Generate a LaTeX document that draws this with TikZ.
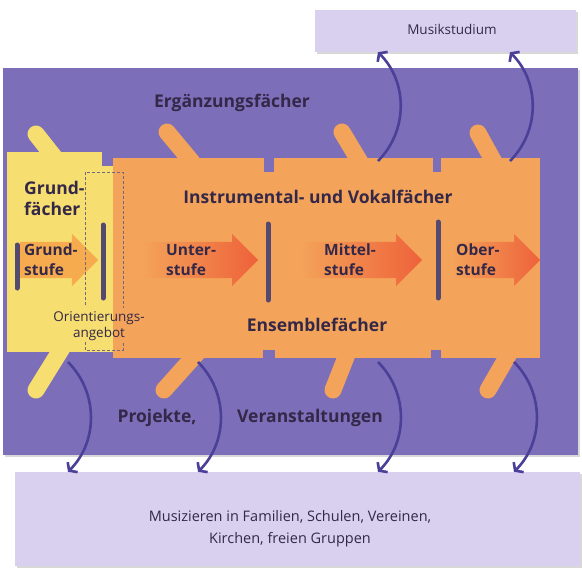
\documentclass[tikz,border=0pt]{standalone}
\usepackage{fontspec}
\setmainfont{Open Sans}
\usetikzlibrary{arrows.meta,positioning,calc,shapes.arrows,shadows}
\definecolor{violett}{RGB}{124,110,184}
\definecolor{flieder}{RGB}{216,208,238}
\definecolor{orangeblk}{RGB}{244,164,90}
\definecolor{gelbblk}{RGB}{246,222,112}
\definecolor{rotpfeil}{RGB}{238,98,58}
\definecolor{hellpfeil}{RGB}{246,172,78}
\definecolor{tinte}{RGB}{52,40,72}
\definecolor{bogen}{RGB}{74,64,152}
\definecolor{trenner}{RGB}{84,74,112}
\tikzstyle{feld}=[fill=violett,inner sep=0pt,drop shadow={opacity=0.3,shadow xshift=2pt,shadow yshift=-2pt}]
\tikzstyle{kasten}=[fill=flieder,inner sep=0pt,drop shadow={opacity=0.3,shadow xshift=2pt,shadow yshift=-2pt}]
\tikzstyle{block}=[inner sep=0pt]
\tikzstyle{lasche}=[line width=17pt,line cap=round]
\tikzstyle{kerbe}=[fill=violett]
\tikzstyle{trennstrich}=[draw=trenner,line width=5pt,line cap=round]
\tikzstyle{stufenpfeil}=[single arrow,minimum width=52pt,single arrow head extend=8pt,inner sep=0pt,inner ysep=18pt,anchor=tail]
\tikzstyle{bogenpfeil}=[draw=bogen,line width=2.6pt,-{Straight Barb[length=5pt,width=14pt]}]
\tikzstyle{gross}=[font=\bfseries\fontsize{17.5}{21}\selectfont,text=tinte]
\tikzstyle{stufe}=[font=\bfseries\fontsize{15.5}{20}\selectfont,text=tinte,align=left,anchor=west,inner sep=0pt]
\tikzstyle{klein}=[font=\fontsize{13.5}{16}\selectfont,text=tinte,align=center]

\begin{document}
\begin{tikzpicture}[x=1pt,y=-1pt]
\useasboundingbox[fill=white] (0,0) rectangle (582,571);
\node[kasten,minimum width=261pt,minimum height=42pt] (studium) at (445.5,31) {};
\node[klein] (studiumtext) at (452,29) {Musikstudium};
\node[feld,minimum width=575pt,minimum height=387pt] (feld) at (290.5,261.5) {};
\node[kasten,minimum width=565pt,minimum height=94pt] (basis) at (297.5,519) {};
\node[klein,font=\fontsize{14.5}{22}\selectfont] (musizieren) at (290,529) {Musizieren in Familien, Schulen, Vereinen,\\Kirchen, freien Gruppen};

\draw[lasche,gelbblk] (55,158) -- (36,134);
\draw[lasche,gelbblk] (62,348) -- (36,390);
\draw[lasche,orangeblk] (192,162) -- (167,132);
\draw[lasche,orangeblk] (360,162) -- (342,132);
\draw[lasche,orangeblk] (494,162) -- (478,133);
\draw[lasche,orangeblk] (198,352) -- (164,390);
\draw[lasche,orangeblk] (348,352) -- (333,390);
\draw[lasche,orangeblk] (510,352) -- (488,390);
\node[block,fill=gelbblk,minimum width=95pt,minimum height=200pt] (grund) at (54.5,252) {};
\node[block,fill=gelbblk,minimum width=20pt,minimum height=186pt] (grundrand) at (105,259) {};
\node[block,fill=orangeblk,minimum width=427pt,minimum height=200pt] (instr) at (326.5,258) {};
\fill[kerbe] (264,156) rectangle (274,172);
\fill[kerbe] (433,156) rectangle (441,172);
\fill[kerbe] (263,350) rectangle (275,360);
\fill[kerbe] (431,350) rectangle (441,360);

\node[stufenpfeil,fill=hellpfeil,minimum height=78pt] (p1) at (20,260) {};
\node[stufenpfeil,left color=orangeblk,right color=rotpfeil,minimum height=118pt] (p2) at (140,260) {};
\node[stufenpfeil,left color=orangeblk,right color=rotpfeil,minimum height=124pt] (p3) at (298,260) {};
\node[stufenpfeil,left color=orangeblk,right color=rotpfeil,minimum height=90pt] (p4) at (450,260) {};
\draw[trennstrich] (17,245) -- (17,288);
\draw[trennstrich] (103,225) -- (103,298);
\draw[trennstrich] (268,224) -- (268,300);
\draw[trennstrich] (438,222) -- (438,298);

\draw[dashed,tinte!70,dash pattern=on 3pt off 2pt] (85,305) -- (85,172) -- (123,172) -- (123,308);
\draw[dashed,tinte!70,dash pattern=on 3pt off 2pt] (85,342) -- (85,350) -- (123,350) -- (123,342);

\node[gross] (ergaenzung) at (232,103) {Ergänzungsfächer};
\node[gross,align=left,anchor=west,inner sep=0pt] (grundfaecher) at (24,198) {Grund-\\fächer};
\node[gross] (instrumental) at (318,197) {Instrumental- und Vokalfächer};
\node[stufe] (s1) at (24,260) {Grund-\\stufe};
\node[stufe] (s2) at (166,260) {Unter-\\stufe};
\node[stufe] (s3) at (324,260) {Mittel-\\stufe};
\node[stufe] (s4) at (456,260) {Ober-\\stufe};
\node[klein] (orientierung) at (99,326) {Orientierungs-\\angebot};
\node[gross] (ensemble) at (317,325) {Ensemblefächer};
\node[gross] (projekte) at (157,418) {Projekte,};
\node[gross] (veranstaltungen) at (310,418) {Veranstaltungen};

\coordinate (a1) at (378,161);
\coordinate (a2) at (510,161);
\coordinate (b1) at (68,362);
\coordinate (b2) at (198,362);
\coordinate (b3) at (378,362);
\coordinate (b4) at (514,362);
\draw[bogenpfeil] (a1) to[bend right=45] (studium.south -| a1);
\draw[bogenpfeil] (a2) to[bend right=45] (studium.south -| a2);
\draw[bogenpfeil] (b1) to[bend left=45] (basis.north -| b1);
\draw[bogenpfeil] (b2) to[bend left=45] (basis.north -| b2);
\draw[bogenpfeil] (b3) to[bend left=45] (basis.north -| b3);
\draw[bogenpfeil] (b4) to[bend left=45] (basis.north -| b4);
\end{tikzpicture}
\end{document}
